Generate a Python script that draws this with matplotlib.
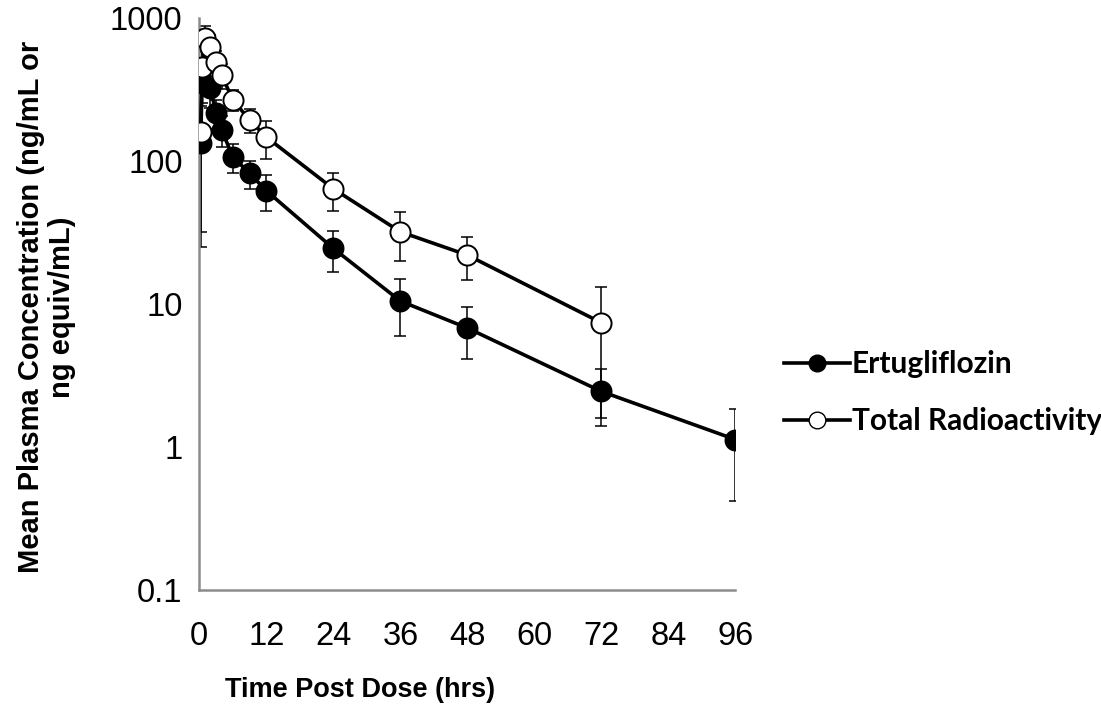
import matplotlib
matplotlib.use('Agg')
import matplotlib.pyplot as plt
from matplotlib.lines import Line2D

# mean concentrations and SD
t_ertu = [0.25, 0.5, 2, 3, 4, 6, 9, 12, 24, 36, 48, 72, 96]
c_ertu = [134, 351, 324, 217, 165, 107, 82, 62, 24.5, 10.5, 6.8, 2.45, 1.13]
sd_ertu = [109, 96, 90, 50, 40, 24, 18, 17.5, 7.7, 4.5, 2.7, 1.05, 0.71]

t_total = [0.25, 0.5, 1, 2, 3, 4, 6, 9, 12, 24, 36, 48, 72]
c_total = [160, 454, 725, 627, 492, 399, 267, 194, 147, 64, 32, 22, 7.4]
sd_total = [128, 155, 150, 130, 100, 80, 45, 38, 43, 19, 12, 7.2, 5.8]

xticks = [0, 12, 24, 36, 48, 60, 72, 84, 96]
yticks = [0.1, 1, 10, 100, 1000]
ytick_labels = ['0.1', '1', '10', '100', '1000']

plt.rcParams['font.family'] = ['Liberation Sans', 'DejaVu Sans']

fig = plt.figure(figsize=(11.01, 7.18), dpi=100)
ax = fig.add_axes([0.181, 0.178, 0.487, 0.797])

ax.errorbar(t_ertu, c_ertu, yerr=sd_ertu, fmt='none', ecolor='black',
            elinewidth=1.1, capsize=4.5, capthick=1.1, zorder=2)
ax.errorbar(t_total, c_total, yerr=sd_total, fmt='none', ecolor='black',
            elinewidth=1.1, capsize=4.5, capthick=1.1, zorder=2)
ax.plot(t_ertu, c_ertu, '-o', color='black', lw=2.6, ms=14.5,
        mfc='black', mec='black', mew=1.3, zorder=3)
ax.plot(t_total, c_total, '-o', color='black', lw=2.6, ms=14.5,
        mfc='white', mec='black', mew=1.4, zorder=4)

ax.set_yscale('log')
ax.set_ylim(0.1, 1000)
ax.set_xlim(0, 96)
ax.set_xticks(xticks)
ax.set_yticks(yticks)
ax.set_yticklabels(ytick_labels)
ax.yaxis.set_minor_locator(matplotlib.ticker.NullLocator())
ax.tick_params(axis='both', length=0, labelsize=23.5)
ax.tick_params(axis='x', pad=22)
ax.tick_params(axis='y', pad=12)

for s in ['top', 'right']:
    ax.spines[s].set_visible(False)
for s in ['left', 'bottom']:
    ax.spines[s].set_color('#8c8c8c')
    ax.spines[s].set_linewidth(1.8)

ax.set_xlabel('Time Post Dose (hrs)', fontsize=19.5, fontweight='bold', va='center')
ax.xaxis.set_label_coords(0.30, -0.175)
ax.set_ylabel('Mean Plasma Concentration (ng/mL or\nng equiv/mL)', fontsize=21,
              fontweight='bold', linespacing=1.12, va='center')
ax.yaxis.set_label_coords(-0.285, 0.495)

handles = [
    Line2D([], [], color='black', lw=2.6, marker='o', ms=12, mfc='black', mec='black'),
    Line2D([], [], color='black', lw=2.6, marker='o', ms=12, mfc='white', mec='black'),
]
fig.legend(handles, ['Ertugliflozin', 'Total Radioactivity'],
           loc='center left', bbox_to_anchor=(0.688, 0.453), frameon=False,
           prop={'family': 'Lato', 'weight': 'bold', 'size': 21.5},
           handlelength=2.2, handletextpad=0.05, labelspacing=0.97)

fig.savefig('out.png', dpi=100)
